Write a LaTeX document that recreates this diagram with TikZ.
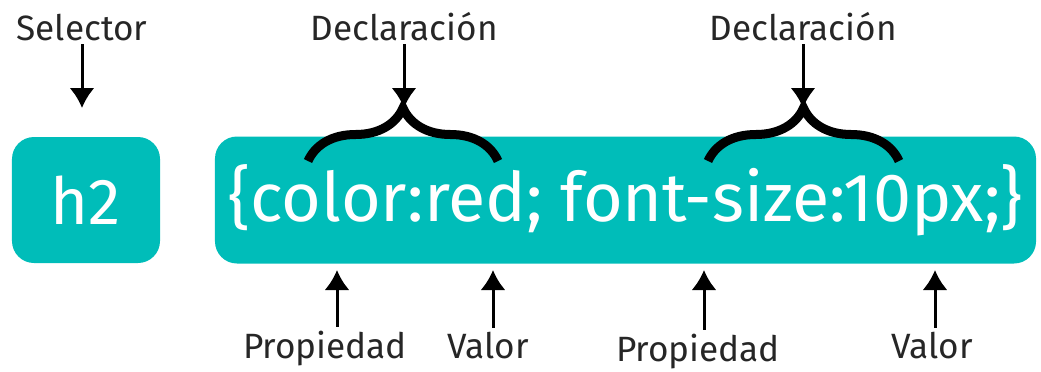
\documentclass[tikz,border=0pt]{standalone}
\usepackage{fontspec}
\setmainfont{Fira Sans}
\usetikzlibrary{arrows.meta,decorations.pathreplacing}
\definecolor{turquesa}{RGB}{0,189,185}
\tikzset{
	caja/.style={fill=turquesa, rounded corners=4.4mm, text=white, inner sep=0pt},
	etiq/.style={font=\fontsize{20}{22}\selectfont, text=black!85, inner sep=2pt},
	flecha/.style={line width=0.6mm, -{Latex[length=4mm,width=5mm]}},
	llave/.style={line width=1.8mm, decorate, decoration={brace, amplitude=10.6mm}}
}
\begin{document}
\begin{tikzpicture}[x=0.2mm,y=-0.2mm]
				\useasboundingbox (0,0) rectangle (1041,371);
				%
				\node[caja, minimum width=29.6mm, minimum height=25.2mm, font=\fontsize{37}{40}\selectfont] (sel) at (86,200) {h2};
				\node[caja, minimum width=164.2mm, minimum height=25.4mm, font=\fontsize{38.8}{42}\selectfont] (dec) at (625.5,200) {\{color:red; font-size:10px;\}};
				%
				\coordinate (l0) at (308,161);
				\coordinate (r0) at (498,161);
				\coordinate (l1) at (708,161);
				\coordinate (r1) at (899,161);
				\coordinate (t0) at (404,108);
				\coordinate (t1) at (803,108);
				\foreach \i/\x in {0/404,1/803}{
						\draw[llave] (l\i) -- (r\i);
						\node[etiq, anchor=base] (d\i) at (\x,40) {Declaración};
						\draw[flecha] (d\i) -- (t\i);
					}
				%
				\coordinate (s) at (82,108);
				\node[etiq, anchor=base] (s0) at (82,40) {Selector};
				\draw[flecha] (s0) -- (s);
				%
				\coordinate (a0) at (337,270);
				\coordinate (a1) at (493,270);
				\coordinate (a2) at (704,270);
				\coordinate (a3) at (935,270);
				\node[etiq, anchor=base] (e0) at (325,358) {Propiedad};
				\node[etiq, anchor=base] (e1) at (488,358) {Valor};
				\node[etiq, anchor=base] (e2) at (698,361) {Propiedad};
				\node[etiq, anchor=base] (e3) at (932,358) {Valor};
				\foreach \i in {0,...,3}
				\draw[flecha] (e\i.north -| a\i) -- (a\i);
			\end{tikzpicture}
\end{document}
